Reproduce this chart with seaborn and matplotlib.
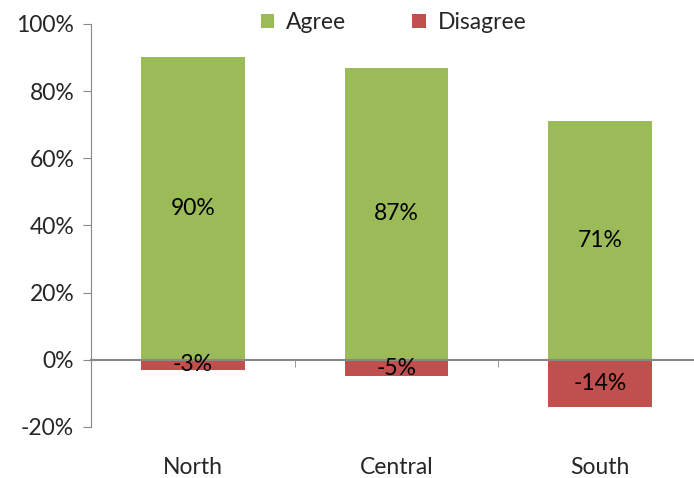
import pandas as pd
import numpy as np
import matplotlib.pyplot as plt
import seaborn as sns

regions = ["North", "Central", "South"]
agree = [90, 87, 71]
disagree = [-3, -5, -14]
series = ["Agree", "Disagree"]
colors = ["#9BBB59", "#C0504D"]

df = pd.DataFrame({
    "region": regions * 2,
    "value": agree + disagree,
    "answer": [series[0]] * 3 + [series[1]] * 3,
})

sns.set_style("white")
plt.rcParams["font.family"] = ["Lato", "DejaVu Sans"]
fs = 16.5

fig = plt.figure(figsize=(6.94, 4.78), dpi=100)
ax = fig.add_axes([0.131, 0.107, 0.869, 0.843])

sns.barplot(data=df, x="region", y="value", hue="answer", palette=colors,
            saturation=1, dodge=False, width=0.51, linewidth=0, ax=ax, legend=True)

for cont in ax.containers:
    ax.bar_label(cont, labels=[f"{v:.0f}%" for v in cont.datavalues],
                 label_type="center", fontsize=fs, color="black")

ax.set_ylim(-20, 100)
ax.set_xlim(-0.5, 2.46)
ax.set_yticks(range(-20, 101, 20))
ax.set_yticklabels([f"{t}%" for t in range(-20, 101, 20)], fontsize=fs)
ax.set_xlabel("")
ax.set_ylabel("")

gray = "#888888"
for s in ["top", "right"]:
    ax.spines[s].set_visible(False)
ax.spines["left"].set_color(gray)
ax.spines["bottom"].set_color(gray)
ax.spines["bottom"].set_linewidth(1.5)
ax.spines["bottom"].set_position(("data", 0))
ax.spines["bottom"].set_bounds(-0.5, 2.46)

ax.tick_params(axis="y", direction="out", length=6, color=gray, left=True, pad=6)
ax.set_xticks([0.5, 1.5], minor=True)
ax.tick_params(axis="x", which="minor", direction="out", length=5, color=gray, bottom=True)
ax.tick_params(axis="x", which="major", length=0, pad=70, labelsize=fs)

handles, labels = ax.get_legend_handles_labels()
ax.legend(handles, labels, loc="center", bbox_to_anchor=(0.567, 0.953),
          bbox_transform=fig.transFigure, ncol=2, frameon=False, fontsize=fs,
          handlelength=0.6, handleheight=0.6, columnspacing=2.9, handletextpad=0.5)

fig.savefig("out.png", dpi=100)
